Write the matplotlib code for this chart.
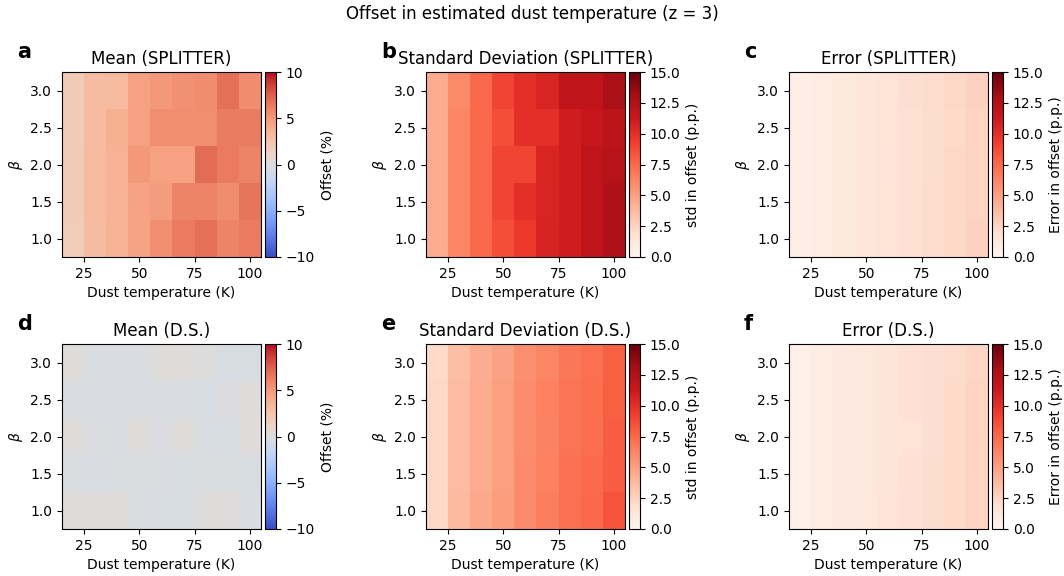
import numpy as np
from matplotlib import pyplot as plt

# grid: dust temperature (K) along x, beta along y
temps = [20, 30, 40, 50, 60, 70, 80, 90, 100]
betas = [1.0, 1.5, 2.0, 2.5, 3.0]

# rows go from beta = 1.0 (bottom) to beta = 3.0 (top)
mean_splitter = np.array([
    [1.8, 3.0, 3.6, 4.5, 5.5, 6.4, 6.8, 6.0, 6.4],
    [1.9, 3.2, 3.6, 4.5, 4.8, 6.0, 6.0, 5.6, 6.6],
    [1.9, 3.2, 3.6, 5.0, 4.6, 4.6, 7.0, 6.4, 6.0],
    [1.9, 3.1, 3.8, 4.6, 5.5, 5.5, 5.5, 6.3, 6.3],
    [1.9, 3.0, 3.2, 4.6, 5.0, 5.4, 5.6, 6.8, 5.6],
])
std_splitter = np.array([
    [4.5, 6.2, 7.5, 8.6, 9.5, 10.6, 11.0, 11.8, 12.6],
    [4.5, 6.2, 7.5, 9.0, 10.0, 10.5, 11.0, 11.8, 12.6],
    [4.5, 6.2, 7.5, 9.0, 9.0, 10.5, 11.0, 11.8, 12.2],
    [4.5, 6.2, 7.5, 8.6, 10.0, 10.0, 11.0, 11.5, 12.0],
    [4.5, 6.0, 7.5, 9.0, 10.0, 10.5, 11.8, 11.8, 12.8],
])
err_splitter = np.array([
    [0.6, 0.9, 1.1, 1.3, 1.6, 1.8, 2.1, 2.3, 2.6],
    [0.6, 0.9, 1.1, 1.3, 1.6, 1.8, 2.1, 2.3, 2.5],
    [0.6, 0.9, 1.1, 1.3, 1.5, 1.8, 2.0, 2.3, 2.5],
    [0.6, 0.9, 1.1, 1.3, 1.6, 1.8, 2.0, 2.2, 2.5],
    [0.6, 0.9, 1.1, 1.3, 1.6, 1.9, 2.1, 2.3, 2.6],
])
mean_ds = np.array([
    [0.0, 0.0, 0.05, -0.2, -0.4, -0.4, 0.0, 0.0, -0.3],
    [-0.2, -0.3, -0.2, -0.2, -0.2, -0.4, -0.1, -0.1, -0.4],
    [0.0, -0.2, -0.3, 0.0, -0.2, 0.0, -0.3, -0.4, 0.1],
    [-0.3, -0.3, -0.3, -0.3, -0.3, -0.3, -0.4, -0.2, 0.1],
    [0.0, -0.3, -0.3, -0.3, 0.0, 0.0, -0.1, -0.4, -0.4],
])
std_ds = np.array([
    [2.3, 3.8, 4.6, 5.1, 6.0, 6.5, 7.2, 7.5, 8.4],
    [2.3, 3.7, 4.5, 5.0, 6.0, 6.4, 7.2, 7.4, 8.0],
    [2.3, 3.7, 4.5, 5.0, 5.9, 6.3, 7.0, 7.3, 8.0],
    [2.3, 3.7, 4.5, 5.0, 5.9, 6.4, 7.0, 7.3, 7.9],
    [2.2, 3.6, 4.4, 4.9, 5.8, 6.2, 6.9, 7.2, 7.9],
])
err_ds = np.array([
    [0.5, 0.8, 1.0, 1.2, 1.5, 1.7, 2.0, 2.2, 2.5],
    [0.5, 0.8, 1.0, 1.2, 1.4, 1.7, 2.0, 2.2, 2.5],
    [0.5, 0.8, 1.0, 1.2, 1.4, 1.6, 1.9, 2.2, 2.5],
    [0.5, 0.8, 1.0, 1.2, 1.4, 1.7, 1.9, 2.2, 2.5],
    [0.5, 0.8, 1.0, 1.2, 1.4, 1.7, 1.9, 2.1, 2.4],
])

panels = [
    ("a", "Mean (SPLITTER)", mean_splitter, "coolwarm", -10, 10, "Offset (%)"),
    ("b", "Standard Deviation (SPLITTER)", std_splitter, "Reds", 0, 15, "std in offset (p.p.)"),
    ("c", "Error (SPLITTER)", err_splitter, "Reds", 0, 15, "Error in offset (p.p.)"),
    ("d", "Mean (D.S.)", mean_ds, "coolwarm", -10, 10, "Offset (%)"),
    ("e", "Standard Deviation (D.S.)", std_ds, "Reds", 0, 15, "std in offset (p.p.)"),
    ("f", "Error (D.S.)", err_ds, "Reds", 0, 15, "Error in offset (p.p.)"),
]

W, H = 1064, 576
fig = plt.figure(figsize=(W / 100, H / 100), dpi=100)

lefts = [62, 426, 789]
tops = [72, 344]
ax_w, ax_h = 199, 185
cb_gap, cb_w = 4, 11

dT = temps[1] - temps[0]
dB = betas[1] - betas[0]
extent = [temps[0] - dT / 2, temps[-1] + dT / 2, betas[0] - dB / 2, betas[-1] + dB / 2]

for i, (lab, title, data, cmap, vmin, vmax, cblabel) in enumerate(panels):
    r, c = divmod(i, 3)
    x0, y0 = lefts[c], tops[r]
    ax = fig.add_axes([x0 / W, 1 - (y0 + ax_h) / H, ax_w / W, ax_h / H])
    im = ax.imshow(data, origin="lower", extent=extent, aspect="auto",
                   cmap=cmap, vmin=vmin, vmax=vmax)
    ax.set_xticks([25, 50, 75, 100])
    ax.set_yticks([1.0, 1.5, 2.0, 2.5, 3.0])
    ax.set_title(title)
    ax.set_ylabel(r"$\beta$")
    ax.set_xlabel("Dust temperature (K)")
    cax = fig.add_axes([(x0 + ax_w + cb_gap) / W, 1 - (y0 + ax_h) / H, cb_w / W, ax_h / H])
    cb = fig.colorbar(im, cax=cax)
    cb.set_label(cblabel)
    fig.text((x0 - 45) / W, 1 - (y0 - 10) / H, lab, fontsize=15, fontweight="bold",
             va="bottom", ha="left")

fig.suptitle("Offset in estimated dust temperature (z = 3)", y=1 - 14 / H, va="center")

plt.savefig("out.png", dpi=100)
